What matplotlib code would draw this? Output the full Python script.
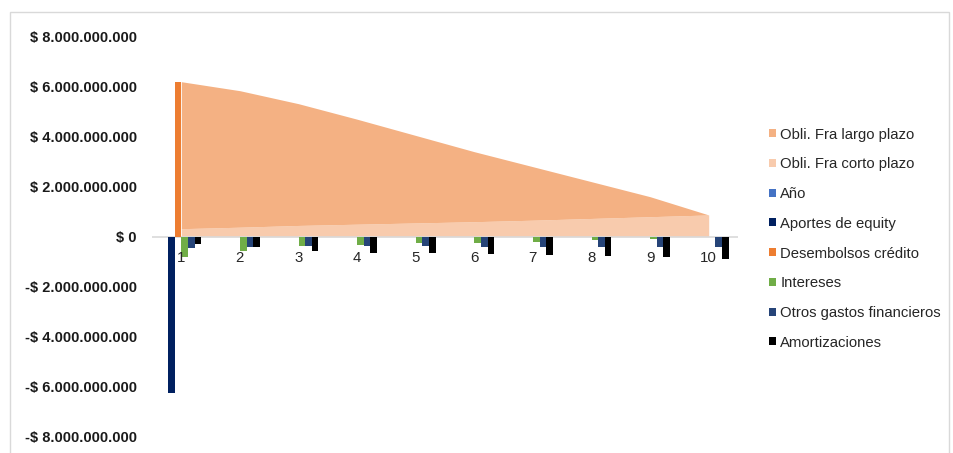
import matplotlib
matplotlib.use("Agg")
import matplotlib.pyplot as plt
from matplotlib.patches import Patch, Rectangle
import numpy as np

plt.rcParams['font.family'] = ['Liberation Sans', 'DejaVu Sans']

# ---- data (values in pesos) ----
years = [1, 2, 3, 4, 5, 6, 7, 8, 9, 10]
year_labels = ["1", "2", "3", "4", "5", "6", "7", "8", "9", "10"]

deuda_total = [6.20e9, 5.84e9, 5.32e9, 4.70e9, 4.05e9, 3.40e9, 2.80e9, 2.20e9, 1.60e9, 0.87e9]
obli_corto = [0.32e9, 0.38e9, 0.45e9, 0.50e9, 0.55e9, 0.60e9, 0.66e9, 0.73e9, 0.80e9, 0.87e9]
obli_largo = [t - c for t, c in zip(deuda_total, obli_corto)]

anio = [1, 2, 3, 4, 5, 6, 7, 8, 9, 10]
aportes_equity = [-6.25e9, 0, 0, 0, 0, 0, 0, 0, 0, 0]
desembolsos = [6.20e9, 0, 0, 0, 0, 0, 0, 0, 0, 0]
intereses = [-0.82e9, -0.57e9, -0.36e9, -0.33e9, -0.27e9, -0.24e9, -0.20e9, -0.15e9, -0.10e9, 0]
otros_gastos = [-0.44e9, -0.41e9, -0.36e9, -0.36e9, -0.37e9, -0.40e9, -0.41e9, -0.41e9, -0.40e9, -0.40e9]
amortizaciones = [-0.29e9, -0.42e9, -0.57e9, -0.65e9, -0.67e9, -0.69e9, -0.73e9, -0.76e9, -0.80e9, -0.90e9]

y_ticks = [-8e9, -6e9, -4e9, -2e9, 0, 2e9, 4e9, 6e9, 8e9]

# ---- styling ----
c_largo = "#F4B183"
c_corto = "#F8CBAD"
bar_series = [
    ("Año", anio, "#4472C4"),
    ("Aportes de equity", aportes_equity, "#002060"),
    ("Desembolsos crédito", desembolsos, "#ED7D31"),
    ("Intereses", intereses, "#70AD47"),
    ("Otros gastos financieros", otros_gastos, "#264478"),
    ("Amortizaciones", amortizaciones, "#000000"),
]

W, H = 954, 453
fig = plt.figure(figsize=(W / 100, H / 100), dpi=100)

# outer chart border
fig.patches.append(Rectangle((10 / W, -0.1), 939 / W, 1.1 - 12 / H,
                             transform=fig.transFigure, fill=False,
                             edgecolor="#D9D9D9", linewidth=1))

ax_left, ax_right = 152, 738
ax_top, ax_bottom = 36.7, 436.7
ax = fig.add_axes([ax_left / W, (H - ax_bottom) / H,
                   (ax_right - ax_left) / W, (ax_bottom - ax_top) / H])

x = np.array(years, dtype=float)

# stacked area: short-term obligations at the bottom, long-term on top
ax.fill_between(x, 0, obli_corto, color=c_corto, linewidth=0, zorder=1)
ax.fill_between(x, obli_corto, np.array(obli_corto) + np.array(obli_largo),
                color=c_largo, linewidth=0, zorder=1)

# zero line
ax.axhline(0, color="#D9D9D9", linewidth=1.2, zorder=2)

# clustered bars
w = 0.113
n = len(bar_series)
for i, (name, vals, col) in enumerate(bar_series):
    ax.bar(x + (i - (n - 1) / 2) * w, vals, width=w, color=col,
           linewidth=0, zorder=3)

ax.set_xlim(0.5, 10.5)
ax.set_ylim(-8e9, 8e9)

for s in ax.spines.values():
    s.set_visible(False)

ax.set_xticks([])


def peso(v):
    s = f"{abs(int(v)):,}".replace(",", ".")
    return ("-$ " if v < 0 else "$ ") + s


ax.set_yticks(y_ticks)
ax.set_yticklabels([peso(v) for v in y_ticks], fontweight="bold",
                   fontsize=10.5, color="#1a1a1a")
ax.tick_params(axis="y", length=0, pad=11)

for xi, lab in zip(years, year_labels):
    ax.annotate(lab, (xi, 0), xytext=(0, -21), textcoords="offset pixels",
                ha="center", va="center", fontsize=10.8, color="#262626")

handles = [Patch(facecolor=c_largo, label="Obli. Fra largo plazo"),
           Patch(facecolor=c_corto, label="Obli. Fra corto plazo")]
handles += [Patch(facecolor=col, label=name) for name, _, col in bar_series]

fig.legend(handles=handles, loc="upper left",
           bbox_to_anchor=(769 / W, 1 - 127.5 / H), frameon=False,
           fontsize=10.7, handlelength=0.45, handleheight=0.45,
           handletextpad=0.3, labelspacing=1.06, labelcolor="#262626",
           borderaxespad=0, borderpad=0)

fig.savefig("out.png", dpi=100)
